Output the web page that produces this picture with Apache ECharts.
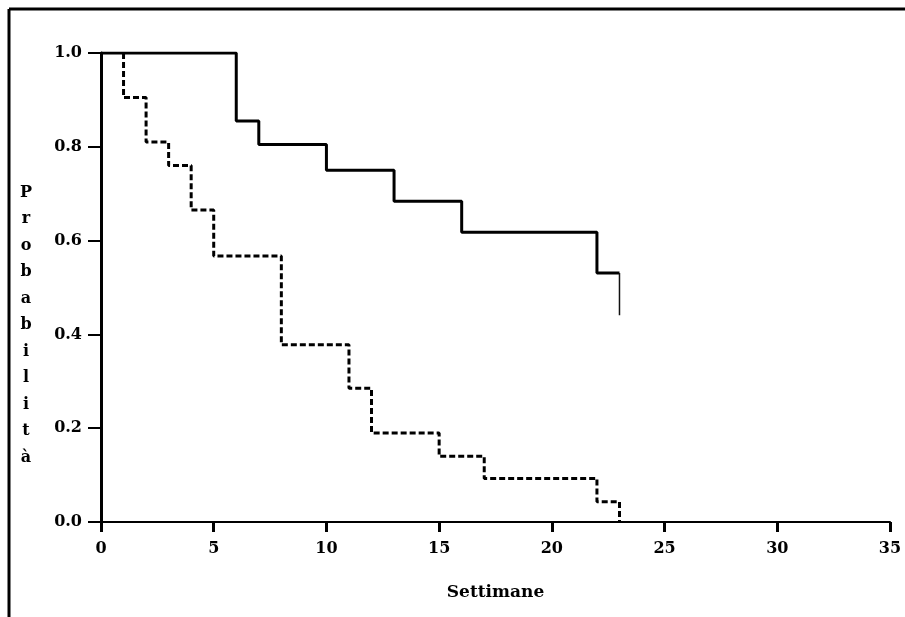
<!DOCTYPE html>
<html>
<head>
<meta charset="utf-8">
<script src="https://cdn.jsdelivr.net/npm/echarts@6/dist/echarts.min.js"></script>
<style>
  html, body { margin: 0; padding: 0; background: #fff; }
  #main { width: 905px; height: 617px; }
</style>
</head>
<body>
<div id="main"></div>
<script>
// curva continua (gruppo trattato)
var weeksA = [0, 6, 7, 10, 13, 16, 22, 23];
var survA = [1.0, 0.855, 0.805, 0.75, 0.684, 0.618, 0.531, 0.531];
// ultimo tratto sottile a 23 settimane
var censorWeeks = [23, 23];
var censorSurv = [0.531, 0.441];
// curva tratteggiata (gruppo controllo)
var weeksB = [1, 1, 2, 3, 4, 5, 8, 11, 12, 15, 17, 22, 23];
var survB = [1.0, 0.905, 0.81, 0.76, 0.665, 0.567, 0.378, 0.285, 0.19, 0.14, 0.093, 0.043, 0.0];

var xTicks = [0, 5, 10, 15, 20, 25, 30, 35];
var yTicks = [0.0, 0.2, 0.4, 0.6, 0.8, 1.0];
var yLetters = ['P', 'r', 'o', 'b', 'a', 'b', 'i', 'l', 'i', 't', 'à'];

function zip(xs, ys) {
  return xs.map(function (x, i) { return [x, ys[i]]; });
}

var serif = '"DejaVu Serif", serif';

var option = {
  animation: false,
  backgroundColor: '#fff',
  grid: { left: 101, right: 15, top: 53, bottom: 95 },
  xAxis: {
    type: 'value',
    min: xTicks[0],
    max: xTicks[xTicks.length - 1],
    interval: 5,
    name: 'Settimane',
    nameLocation: 'middle',
    nameGap: 62,
    nameTextStyle: { color: '#000', fontFamily: serif, fontSize: 17, fontWeight: 'bold' },
    axisLine: { lineStyle: { color: '#000', width: 2 } },
    axisTick: { length: 10, lineStyle: { color: '#000', width: 3 } },
    axisLabel: { color: '#000', fontFamily: serif, fontSize: 16, fontWeight: 'bold', margin: 19 },
    splitLine: { show: false }
  },
  yAxis: {
    type: 'value',
    min: yTicks[0],
    max: yTicks[yTicks.length - 1],
    interval: 0.2,
    axisLine: { show: true, lineStyle: { color: '#000', width: 3 } },
    axisTick: { show: true, length: 13, lineStyle: { color: '#000', width: 2 } },
    axisLabel: {
      color: '#000', fontFamily: serif, fontSize: 16, fontWeight: 'bold', margin: 19,
      formatter: function (v) { return v.toFixed(1); }
    },
    splitLine: { show: false }
  },
  graphic: [
    { type: 'line', shape: { x1: 9, y1: 9, x2: 905, y2: 9 }, style: { stroke: '#000', lineWidth: 3 } },
    { type: 'line', shape: { x1: 9, y1: 9, x2: 9, y2: 617 }, style: { stroke: '#000', lineWidth: 3 } },
    {
      type: 'text', x: 26, y: 325,
      style: {
        text: yLetters.join('\n'),
        font: 'bold 16px ' + serif,
        fill: '#000',
        align: 'center',
        verticalAlign: 'middle',
        lineHeight: 26.5
      }
    }
  ],
  series: [
    {
      name: 'controllo',
      type: 'line',
      step: 'end',
      symbol: 'none',
      data: zip(weeksB, survB),
      lineStyle: { color: '#000', width: 3, type: [6, 3] }
    },
    {
      name: 'trattato',
      type: 'line',
      step: 'end',
      symbol: 'none',
      data: zip(weeksA, survA),
      lineStyle: { color: '#000', width: 3 }
    },
    {
      name: 'fine',
      type: 'line',
      symbol: 'none',
      data: zip(censorWeeks, censorSurv),
      lineStyle: { color: '#111', width: 1.5 }
    }
  ]
};

var chart = echarts.init(document.getElementById('main'));
chart.setOption(option);
</script>
</body>
</html>
